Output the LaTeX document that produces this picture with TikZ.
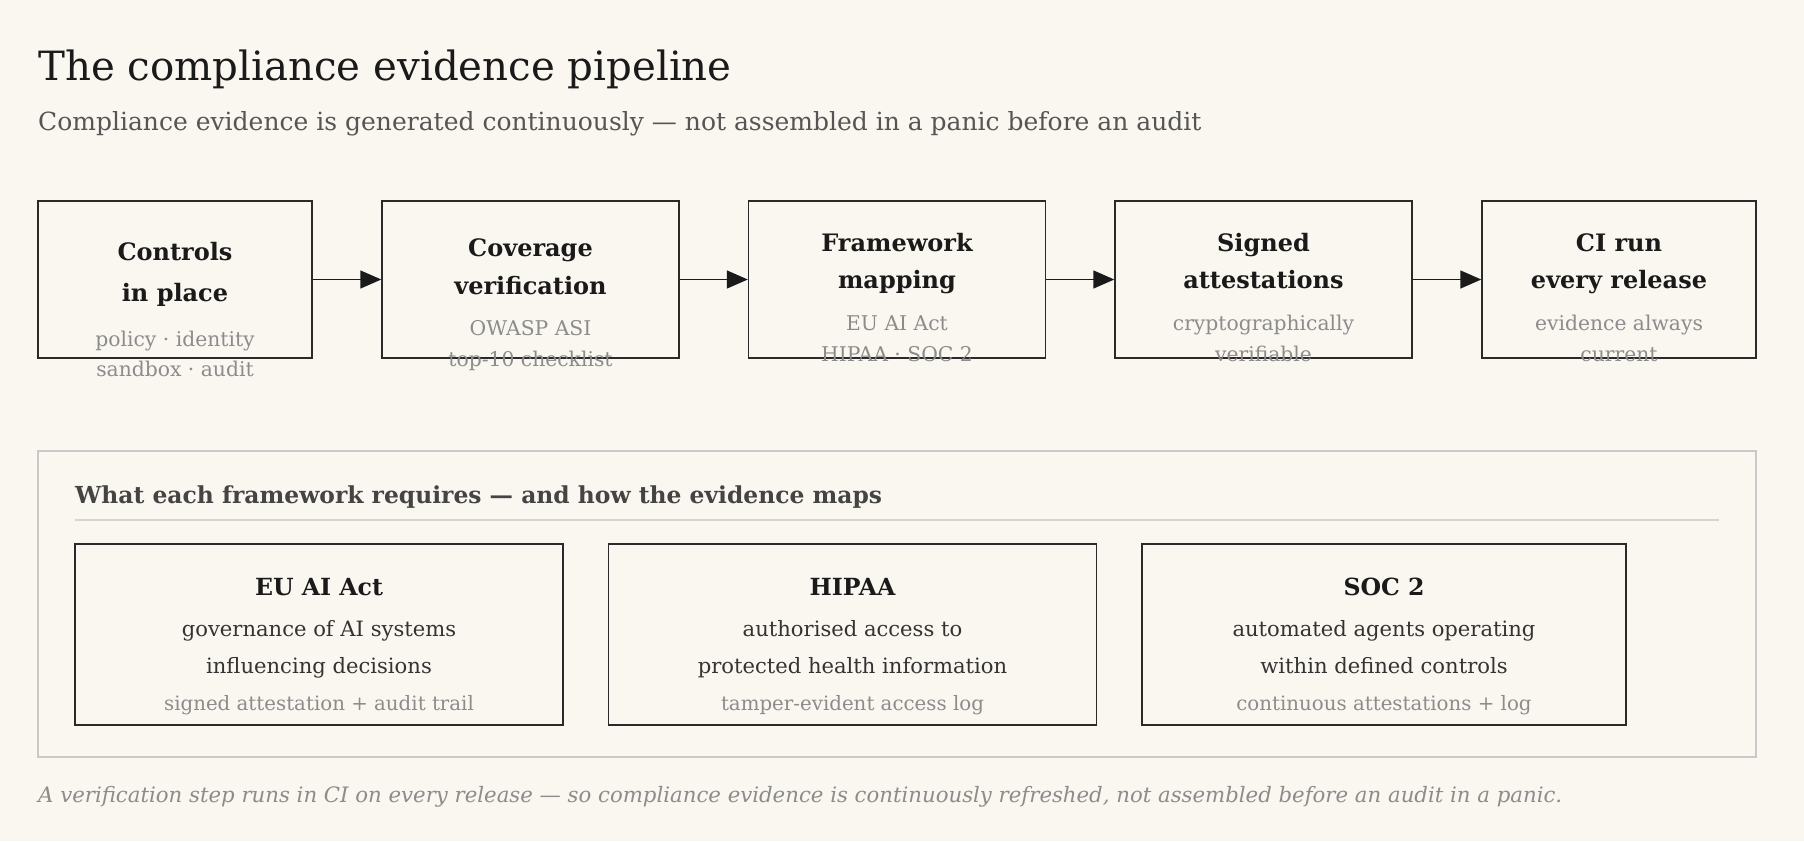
\documentclass[tikz,border=0pt]{standalone}
\usepackage{fontspec}
\setmainfont{DejaVu Serif}
\usetikzlibrary{arrows.meta}
\definecolor{paper}{HTML}{FAF6F0}
\definecolor{ink}{HTML}{1A1A1A}
\definecolor{subgray}{HTML}{555555}
\definecolor{mute}{HTML}{8C8C8C}
\definecolor{frame}{HTML}{2A2A2A}
\definecolor{panelline}{HTML}{C9C9C9}
\definecolor{rulegray}{HTML}{D4D4D4}
\definecolor{headgray}{HTML}{444444}
\definecolor{bodytext}{HTML}{333333}
\begin{document}
\begin{tikzpicture}[x=1pt,y=-1pt,
  stage/.style={draw=frame,line width=1.4pt,minimum height=157pt,inner sep=0pt},
  fwbox/.style={draw=frame,line width=1.4pt,minimum width=488pt,minimum height=181pt,inner sep=0pt},
  stagehead/.style={anchor=base,inner sep=0pt,text=ink,font=\fontsize{24}{28}\selectfont\bfseries},
  stagenote/.style={anchor=base,inner sep=0pt,text=mute,font=\fontsize{20.3}{24}\selectfont},
  fwhead/.style={anchor=base,inner sep=0pt,text=ink,font=\fontsize{23.6}{28}\selectfont\bfseries},
  fwbody/.style={anchor=base,inner sep=0pt,text=bodytext,font=\fontsize{21.1}{25}\selectfont},
  fwnote/.style={anchor=base,inner sep=0pt,text=mute,font=\fontsize{19.8}{23}\selectfont},
  flow/.style={draw=ink,line width=1.4pt,-{Triangle[length=21pt,width=18pt]}}]
\fill[paper] (0,0) rectangle (1804,841);
\useasboundingbox (0,0) rectangle (1804,841);
% heading
\node[anchor=base west,inner sep=0pt,text=ink,font=\fontsize{40.3}{46}\selectfont] (title) at (38,80) {The compliance evidence pipeline};
\node[anchor=base west,inner sep=0pt,text=subgray,font=\fontsize{25}{29}\selectfont] (subtitle) at (38,130) {Compliance evidence is generated continuously — not assembled in a panic before an audit};
% pipeline stages
\node[stage,minimum width=274pt] (ctrl) at (175,279.5) {};
\node[stage,minimum width=297pt] (cover) at (530.5,279.5) {};
\node[stage,minimum width=297pt] (fwmap) at (897,279.5) {};
\node[stage,minimum width=297pt] (signed) at (1263.5,279.5) {};
\node[stage,minimum width=274pt] (cirun) at (1619,279.5) {};
\draw[flow] (ctrl.east) -- (cover.west);
\draw[flow] (cover.east) -- (fwmap.west);
\draw[flow] (fwmap.east) -- (signed.west);
\draw[flow] (signed.east) -- (cirun.west);
\node[stagehead] (ctrl-a) at (175,260.7) {Controls};
\node[stagehead] (ctrl-b) at (175,301.7) {in place};
\node[stagenote] (ctrl-c) at (175,346) {policy · identity};
\node[stagenote] (ctrl-d) at (175,376.7) {sandbox · audit};
\node[stagehead] (cover-a) at (530.5,256.7) {Coverage};
\node[stagehead] (cover-b) at (530.5,294) {verification};
\node[stagenote] (cover-c) at (530.5,335) {OWASP ASI};
\node[stagenote] (cover-d) at (530.5,366.7) {top-10 checklist};
\node[stagehead] (fwmap-a) at (897,251.7) {Framework};
\node[stagehead] (fwmap-b) at (897,288.3) {mapping};
\node[stagenote] (fwmap-c) at (897,330.7) {EU AI Act};
\node[stagenote] (fwmap-d) at (897,361.7) {HIPAA · SOC 2};
\node[stagehead] (signed-a) at (1263.5,251.7) {Signed};
\node[stagehead] (signed-b) at (1263.5,288.3) {attestations};
\node[stagenote] (signed-c) at (1263.5,330.7) {cryptographically};
\node[stagenote] (signed-d) at (1263.5,361.7) {verifiable};
\node[stagehead] (cirun-a) at (1619,251.7) {CI run};
\node[stagehead] (cirun-b) at (1619,288.3) {every release};
\node[stagenote] (cirun-c) at (1619,330.7) {evidence always};
\node[stagenote] (cirun-d) at (1619,361.7) {current};
% framework panel
\node[draw=panelline,line width=1.4pt,minimum width=1718pt,minimum height=306pt,inner sep=0pt] (panel) at (897,604) {};
\node[anchor=base west,inner sep=0pt,text=headgray,font=\fontsize{23.4}{28}\selectfont\bfseries] (panelhead) at (75,503) {What each framework requires — and how the evidence maps};
\coordinate (ruleL) at (75,520);
\coordinate (ruleR) at (1719,520);
\draw[rulegray,line width=2pt] (ruleL) -- (ruleR);
\node[fwbox] (euai) at (319,634.5) {};
\node[fwbox] (hipaa) at (852.5,634.5) {};
\node[fwbox,minimum width=484pt] (soc) at (1384,634.5) {};
\node[fwhead] (euai-a) at (319,595) {EU AI Act};
\node[fwbody] (euai-b) at (319,636.7) {governance of AI systems};
\node[fwbody] (euai-c) at (319,673.3) {influencing decisions};
\node[fwnote] (euai-d) at (319,710.7) {signed attestation + audit trail};
\node[fwhead] (hipaa-a) at (852.5,595) {HIPAA};
\node[fwbody] (hipaa-b) at (852.5,636.7) {authorised access to};
\node[fwbody] (hipaa-c) at (852.5,673.3) {protected health information};
\node[fwnote] (hipaa-d) at (852.5,710.7) {tamper-evident access log};
\node[fwhead] (soc-a) at (1384,595) {SOC 2};
\node[fwbody] (soc-b) at (1384,636.7) {automated agents operating};
\node[fwbody] (soc-c) at (1384,673.3) {within defined controls};
\node[fwnote] (soc-d) at (1384,710.7) {continuous attestations + log};
% footnote
\node[anchor=base west,inner sep=0pt,text=mute,font=\fontsize{21.25}{25}\selectfont\itshape] (footer) at (38,802.7) {A verification step runs in CI on every release — so compliance evidence is continuously refreshed, not assembled before an audit in a panic.};
\end{tikzpicture}
\end{document}
